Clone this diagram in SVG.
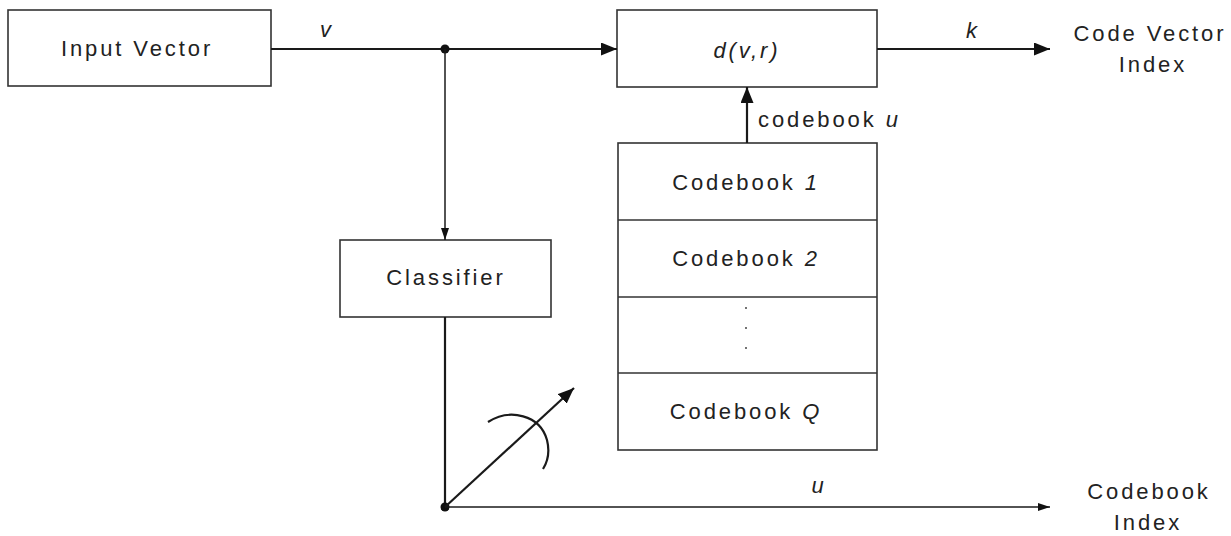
<svg xmlns="http://www.w3.org/2000/svg" width="1231" height="536" viewBox="0 0 1231 536">
<defs>
<style>
.box{fill:#fff;stroke:#333;stroke-width:1.6}
.t{font-family:"Liberation Sans",Arial,sans-serif;font-size:22px;fill:#222;letter-spacing:2.9px}
.i{font-style:italic}
.c{text-anchor:middle}
.ln{fill:none;stroke:#1a1a1a;stroke-width:2.2}
.thin{fill:none;stroke:#1a1a1a;stroke-width:1.5}
</style>
<marker id="ah" viewBox="0 0 16 13" refX="16" refY="6.5" markerWidth="16" markerHeight="13" markerUnits="userSpaceOnUse" orient="auto">
<path d="M0,0 L16,6.5 L0,13 z" fill="#111"/>
</marker>
<marker id="ahs" viewBox="0 0 12 8" refX="12" refY="4" markerWidth="12" markerHeight="8" markerUnits="userSpaceOnUse" orient="auto">
<path d="M0,0 L12,4 L0,8 z" fill="#111"/>
</marker>
</defs>
<rect width="1231" height="536" fill="#fff"/>

<g id="input-vector">
<rect class="box" x="8" y="10" width="263" height="76"/>
<text class="t c" x="137" y="56">Input Vector</text>
</g>

<g id="distance">
<rect class="box" x="617" y="10" width="260" height="77"/>
<text class="t c i" x="747" y="58">d(v,r)</text>
</g>

<g id="classifier">
<rect class="box" x="340" y="240" width="211" height="77"/>
<text class="t c" x="446" y="285">Classifier</text>
</g>

<g id="codebooks">
<rect class="box" x="618" y="143" width="259" height="307"/>
<line class="box" x1="618" y1="220" x2="877" y2="220"/>
<line class="box" x1="618" y1="297" x2="877" y2="297"/>
<line class="box" x1="618" y1="373" x2="877" y2="373"/>
<text class="t c" x="746" y="190">Codebook <tspan class="i">1</tspan></text>
<text class="t c" x="746" y="266">Codebook <tspan class="i">2</tspan></text>
<circle cx="746" cy="308" r="1" fill="#444"/>
<circle cx="746" cy="328" r="1" fill="#444"/>
<circle cx="746" cy="348" r="1" fill="#444"/>
<text class="t c" x="746" y="419">Codebook <tspan class="i">Q</tspan></text>
</g>

<g id="code-vector-index">
<text class="t c" x="1150" y="41">Code Vector</text>
<text class="t c" x="1153" y="72">Index</text>
</g>

<g id="codebook-index">
<text class="t c" x="1149" y="499">Codebook</text>
<text class="t c" x="1148" y="530">Index</text>
</g>

<g id="connectors">
<line class="ln" x1="271" y1="49" x2="445" y2="49"/>
<line class="ln" x1="445" y1="49" x2="617" y2="49" marker-end="url(#ah)"/>
<circle cx="445" cy="49" r="4.5" fill="#111"/>
<text class="t i c" x="327" y="37">v</text>
<line class="thin" x1="445" y1="49" x2="445" y2="240" marker-end="url(#ahs)"/>
<line class="ln" x1="877" y1="49" x2="1050" y2="49" marker-end="url(#ah)"/>
<text class="t i c" x="973" y="38">k</text>
<line class="ln" x1="747" y1="143" x2="747" y2="87" marker-end="url(#ah)"/>
<text class="t" x="758" y="127">codebook <tspan class="i">u</tspan></text>
<line class="ln" x1="445" y1="317" x2="445" y2="507"/>
<circle cx="445" cy="507" r="4.5" fill="#111"/>
<line class="ln" x1="445" y1="507" x2="574" y2="388" marker-end="url(#ah)"/>
<path class="ln" d="M488 422 C510 408 540 415 547 440 C550 452 548 461 543 469"/>
<line class="thin" x1="445" y1="507" x2="1050" y2="507" marker-end="url(#ahs)"/>
<text class="t i c" x="819" y="493">u</text>
</g>
</svg>
